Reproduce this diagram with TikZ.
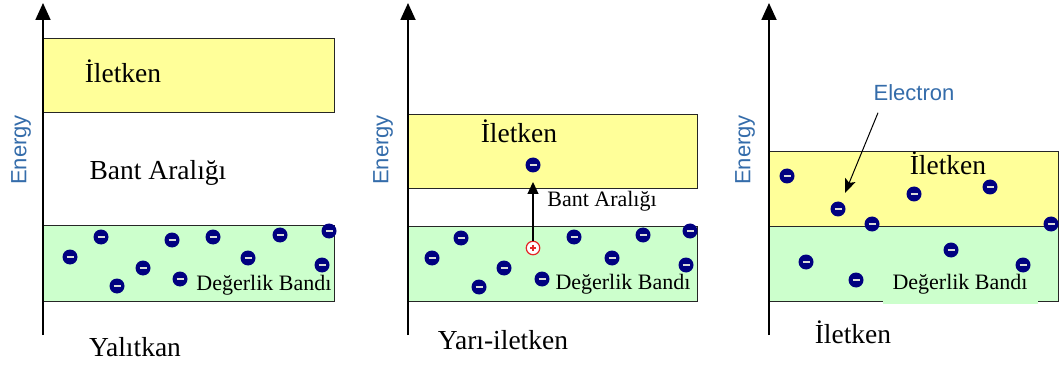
\documentclass[tikz,border=0pt]{standalone}
\usepackage{fontspec}
\setmainfont{Liberation Serif}
\newfontfamily\labelsans{Liberation Sans}
\usetikzlibrary{positioning}
\usetikzlibrary{arrows.meta}

\definecolor{bandyellow}{RGB}{255,255,153}
\definecolor{bandgreen}{RGB}{204,255,204}
\definecolor{elecblue}{RGB}{0,0,128}
\definecolor{energyblue}{RGB}{52,108,170}
\definecolor{holered}{RGB}{228,40,40}

\tikzset{
  axis/.style={line width=1.8pt, -{Triangle[width=15pt,length=17pt]}},
  condband/.style={draw=black!85, line width=1pt, fill=bandyellow},
  valband/.style={draw=black!85, line width=1pt, fill=bandgreen},
  elec/.style={circle, fill=elecblue, minimum size=15pt, inner sep=0pt,
    path picture={\draw[black!15, line width=1.8pt]
      ([xshift=-3.5pt]path picture bounding box.center) --
      ([xshift=3.5pt]path picture bounding box.center);}},
  hole/.style={circle, draw=holered, fill=white, line width=1.2pt, minimum size=13.5pt, inner sep=0pt,
    path picture={\draw[holered, line width=1.4pt]
      ([xshift=-3pt]path picture bounding box.center) -- ([xshift=3pt]path picture bounding box.center)
      ([yshift=-3pt]path picture bounding box.center) -- ([yshift=3pt]path picture bounding box.center);}},
  biglabel/.style={font=\fontsize{27.5}{30}\selectfont, anchor=base},
  smalllabel/.style={font=\fontsize{22}{24}\selectfont, anchor=base},
  energy/.style={font=\labelsans\fontsize{22}{24}\selectfont, text=energyblue, rotate=90},
}

\begin{document}
\begin{tikzpicture}[x=1pt, y=-1pt]
    \useasboundingbox (0,0) rectangle (1064,371);

    % Yalitkan
    \draw[condband] (43,39) rectangle (334,113);
    \draw[valband] (43,226) rectangle (334,301);
    \coordinate (ax1) at (43,335);
    \coordinate (ax1top) at (43,3);
    \draw[axis] (ax1) -- (ax1top);
    \node[energy] (en1) at (21,150) {Energy};
    \node[biglabel] (c1) at (123,83) {İletken};
    \node[biglabel] (g1) at (158,180) {Bant Aralığı};
    \node[smalllabel] (v1) at (264,290) {Değerlik Bandı};
    \node[biglabel] (t1) at (135,356) {Yalıtkan};
    \foreach \ex/\ey [count=\i] in {101/237, 172/240, 213/237, 280/235, 329/231, 70/257,
        248/258, 143/268, 322/265, 117/286, 180/279}
        \node[elec] (p1e\i) at (\ex,\ey) {};

    % Yari-iletken
    \draw[condband] (408,115) rectangle (697,189);
    \draw[valband] (408,227) rectangle (697,301);
    \coordinate (ax2) at (408,335);
    \coordinate (ax2top) at (408,3);
    \draw[axis] (ax2) -- (ax2top);
    \node[energy] (en2) at (383,150) {Energy};
    \node[biglabel] (c2) at (519,143) {İletken};
    \node[smalllabel] (g2) at (602,207) {Bant Aralığı};
    \node[smalllabel] (v2) at (623,289) {Değerlik Bandı};
    \node[biglabel] (t2) at (503,349) {Yarı-iletken};
    \foreach \ex/\ey [count=\i] in {461/238, 574/237, 643/235, 690/231, 432/258, 612/258,
        504/268, 686/265, 479/287, 542/279}
        \node[elec] (p2e\i) at (\ex,\ey) {};
    \node[elec] (up) at (533,165) {};
    \node[hole] (h) at (533,248) {};
    \coordinate (uptip) at (533,182);
    \draw[line width=1.3pt, -{Triangle[width=11pt,length=12pt]}] (h.north) -- (uptip);

    % Iletken
    \draw[condband] (769,152) rectangle (1058,227);
    \draw[valband] (769,227) rectangle (1058,301);
    \coordinate (ax3) at (769,335);
    \coordinate (ax3top) at (769,3);
    \draw[axis] (ax3) -- (ax3top);
    \node[energy] (en3) at (745,150) {Energy};
    \node[biglabel] (c3) at (948,175) {İletken};
    \node[smalllabel, fill=bandgreen, inner xsep=10pt, inner ysep=1pt, text depth=14pt] (v3) at (960,289) {Değerlik Bandı};
    \node[biglabel] (t3) at (853,343) {İletken};
    \foreach \ex/\ey [count=\i] in {787/176, 838/209, 872/224, 914/194, 990/187, 1051/224,
        806/262, 951/250, 1023/265, 856/280}
        \node[elec] (p3e\i) at (\ex,\ey) {};
    \node[font=\labelsans\fontsize{22}{24}\selectfont, text=energyblue, anchor=base] (elabel) at (914,101) {Electron};
    \coordinate (etip) at (845,193);
    \draw[line width=1pt, -{Stealth[width=11pt,length=14pt,inset=3pt]}] ([xshift=-36pt,yshift=-8pt]elabel.south) -- (etip);
\end{tikzpicture}
\end{document}
